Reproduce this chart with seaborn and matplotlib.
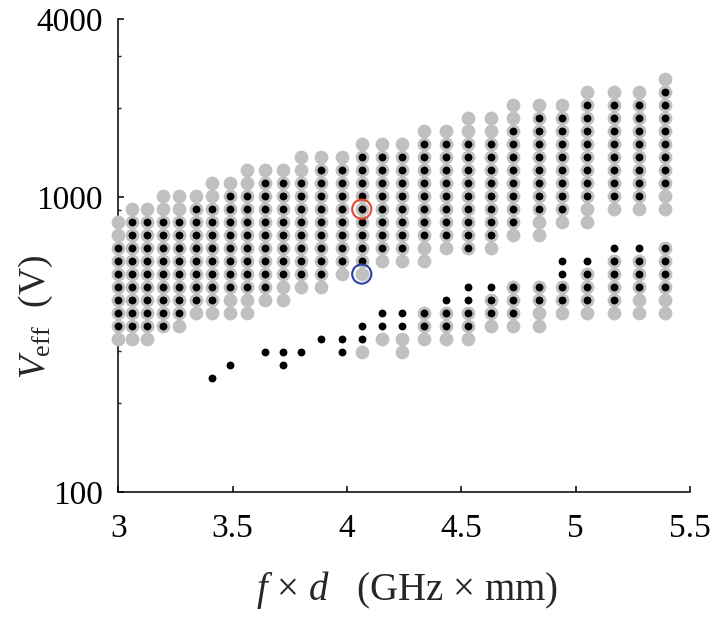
import numpy as np
import pandas as pd
import seaborn as sns
from matplotlib import pyplot as plt
from matplotlib.ticker import FixedLocator, NullFormatter

sns.set_style("ticks")
plt.rcParams['font.family'] = ['Liberation Serif', 'DejaVu Serif']
plt.rcParams['mathtext.fontset'] = 'custom'
plt.rcParams['mathtext.rm'] = 'Liberation Serif'
plt.rcParams['mathtext.it'] = 'Liberation Serif:italic'

# f x d of every measured column (GHz x mm)
fd = [3.00, 3.06, 3.126, 3.197, 3.268, 3.34, 3.41, 3.49, 3.565, 3.64,
      3.72, 3.80, 3.885, 3.977, 4.065, 4.152, 4.24, 4.339, 4.434, 4.53,
      4.63, 4.727, 4.842, 4.94, 5.05, 5.168, 5.278, 5.39]

# voltage levels of the grid rows (V)
v_levels = [244, 270, 298, 330, 365, 404, 447, 495, 548, 606, 671, 742,
            821, 909, 1006, 1113, 1232, 1363, 1508, 1669, 1847, 2044,
            2262, 2503]

# (lowest row, highest row) per column, None = nothing there
gray_upper = [(3, 12), (3, 13), (3, 13), (4, 14), (4, 14), (5, 14), (5, 15),
              (5, 15), (5, 16), (6, 16), (6, 16), (7, 17), (7, 17), (8, 17),
              (8, 18), (9, 18), (9, 18), (9, 19), (10, 19), (10, 20), (10, 20),
              (11, 21), (11, 21), (12, 21), (12, 22), (13, 22), (13, 22), (13, 23)]
black_upper = [(4, 10), (4, 12), (4, 12), (4, 12), (5, 12), (6, 13), (6, 13),
               (7, 14), (7, 14), (7, 15), (8, 15), (8, 15), (8, 16), (9, 16),
               (9, 17), (10, 17), (10, 17), (11, 18), (11, 18), (10, 18), (11, 18),
               (12, 19), (13, 20), (13, 20), (14, 21), (14, 21), (14, 21), (15, 22)]
gray_lower = [None, None, None, None, None, None, None, None, None, None,
              None, None, None, None, (2, 2), (3, 3), (2, 3), (3, 5), (3, 5),
              (3, 5), (4, 6), (4, 7), (4, 7), (5, 7), (5, 8), (5, 9), (5, 9), (5, 10)]
black_lower = [None, None, None, None, None, None, (0, 0), (1, 1), None, (2, 2),
               (1, 2), (2, 2), (3, 3), (2, 3), (3, 4), (4, 5), (4, 5), (4, 5),
               (4, 6), (4, 7), (5, 7), (5, 7), (6, 7), (6, 9), (6, 9), (6, 10),
               (7, 10), (7, 10)]

# highlighted operating points
red_point = (4.065, 909)
blue_point = (4.065, 548)


def expand(*spans):
    rows = []
    for s in spans:
        for x, r in zip(fd, s):
            if r is None:
                continue
            for k in range(r[0], r[1] + 1):
                rows.append((x, v_levels[k]))
    return pd.DataFrame(rows, columns=['fd', 'V'])


gray_df = expand(gray_upper, gray_lower)
black_df = expand(black_upper, black_lower)

fig = plt.figure(figsize=(7.12, 6.26), dpi=100)
ax = fig.add_axes([0.166, 0.2136, 0.803, 0.756])

sns.scatterplot(data=gray_df, x='fd', y='V', color='#c0c0c0', s=98,
                linewidth=0, ax=ax, clip_on=False, zorder=3)
sns.scatterplot(data=black_df, x='fd', y='V', color='black', s=32,
                linewidth=0, ax=ax, clip_on=False, zorder=4)
ax.scatter([red_point[0]], [red_point[1]], s=190, facecolors='none',
           edgecolors='#e5482d', linewidths=1.5, zorder=5)
ax.scatter([blue_point[0]], [blue_point[1]], s=190, facecolors='none',
           edgecolors='#2b3f9e', linewidths=1.5, zorder=5)

ax.set_yscale('log')
ax.set_xlim(3, 5.5)
ax.set_ylim(100, 4000)
ax.set_xticks([3, 3.5, 4, 4.5, 5, 5.5])
ax.set_xticklabels(['3', '3.5', '4', '4.5', '5', '5.5'])
ax.yaxis.set_major_locator(FixedLocator([100, 1000, 4000]))
ax.set_yticklabels(['100', '1000', '4000'])
ax.yaxis.set_minor_locator(FixedLocator([200, 300, 400, 500, 600, 700, 800, 900, 2000, 3000]))
ax.yaxis.set_minor_formatter(NullFormatter())
ax.xaxis.set_minor_locator(FixedLocator([]))

ax.tick_params(which='major', direction='in', length=4.5, width=1.1,
               labelsize=24, colors='black')
ax.tick_params(axis='x', which='major', pad=15)
ax.tick_params(axis='y', which='major', pad=11)
ax.tick_params(which='minor', direction='in', length=2.2, width=1.0)
sns.despine(ax=ax)
for side in ['left', 'bottom']:
    ax.spines[side].set_linewidth(1.1)
    ax.spines[side].set_color('black')

ax.set_xlabel('$f$ × $d$   (GHz × mm)', fontsize=28)
ax.set_ylabel('$V_{\\mathrm{eff}}$  (V)', fontsize=27)
ax.xaxis.set_label_coords(0.505, -0.163)
ax.yaxis.set_label_coords(-0.11, 0.37)

fig.savefig('out.png', dpi=100)
